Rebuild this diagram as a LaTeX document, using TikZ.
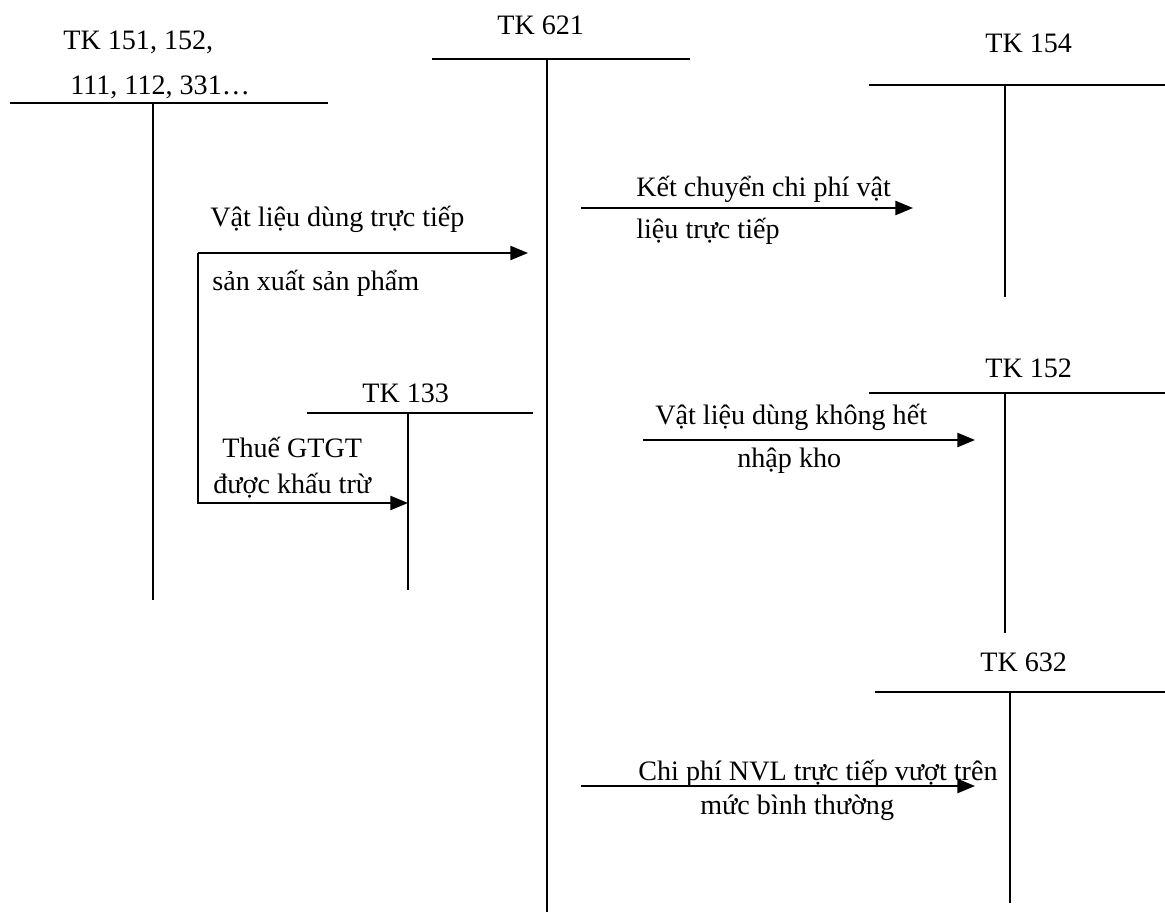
\documentclass[tikz,border=0pt]{standalone}
\usepackage{fontspec}
\setmainfont{Liberation Serif}
\usetikzlibrary{arrows.meta}
\begin{document}
\begin{tikzpicture}[x=0.02cm,y=-0.02cm,
  acc/.style={line width=1.1pt},
  lbl/.style={inner sep=0pt,anchor=base west,font=\fontsize{16}{19}\selectfont},
  arr/.style={line width=1.1pt,-{Triangle[length=10pt,width=8pt]}}]
  \useasboundingbox (0,0) rectangle (1165,912);
  % T-accounts
  \coordinate (t151) at (153,103);
  \coordinate (t621) at (547,59);
  \coordinate (t154) at (1005,85);
  \coordinate (t133) at (408,413);
  \coordinate (t152) at (1005,393);
  \coordinate (t632) at (1010,692);
  \draw[acc] (10,103) -- (328,103);
  \draw[acc] (t151) -- (153,600);
  \draw[acc] (432,59) -- (690,59);
  \draw[acc] (t621) -- (547,912);
  \draw[acc] (869,85) -- (1165,85);
  \draw[acc] (t154) -- (1005,297);
  \draw[acc] (307,413) -- (533,413);
  \draw[acc] (t133) -- (408,590);
  \draw[acc] (869,393) -- (1165,393);
  \draw[acc] (t152) -- (1005,633);
  \draw[acc] (875,692) -- (1165,692);
  \draw[acc] (t632) -- (1010,903);
  \node[lbl] (n151) at (63,50) {TK 151, 152,};
  \node[lbl] (n111) at (70,95) {111, 112, 331\ldots};
  \node[lbl] (n621) at (497,35) {TK 621};
  \node[lbl] (n154) at (985,53) {TK 154};
  \node[lbl] (n133) at (362,402) {TK 133};
  \node[lbl] (n152) at (985,377) {TK 152};
  \node[lbl] (n632) at (980,671) {TK 632};
  % Arrows
  \coordinate (vl) at (198,253);
  \coordinate (vl621) at (528,253);
  \coordinate (vat) at (408,503);
  \coordinate (kc) at (581,208);
  \coordinate (kc154) at (913,208);
  \coordinate (nk) at (643,440);
  \coordinate (nk152) at (975,440);
  \coordinate (cp) at (581,786);
  \coordinate (cp632) at (975,786);
  \draw[arr] (vl) -- (vl621);
  \draw[arr] (vl) -- (vl |- vat) -- (vat);
  \draw[arr] (kc) -- (kc154);
  \draw[arr] (nk) -- (nk152);
  \draw[arr] (cp) -- (cp632);
  \node[lbl] (l1a) at (210,226) {Vật liệu dùng trực tiếp};
  \node[lbl] (l1b) at (212,290) {sản xuất sản phẩm};
  \node[lbl] (l2a) at (222,457) {Thuế GTGT};
  \node[lbl] (l2b) at (213,493) {được khấu trừ};
  \node[lbl] (l3a) at (636,196) {Kết chuyển chi phí vật};
  \node[lbl] (l3b) at (636,238) {liệu trực tiếp};
  \node[lbl] (l4a) at (655,424) {Vật liệu dùng không hết};
  \node[lbl] (l4b) at (737,467) {nhập kho};
  \node[lbl] (l5a) at (638,780) {Chi phí NVL trực tiếp vượt trên};
  \node[lbl] (l5b) at (700,814) {mức bình thường};
\end{tikzpicture}
\end{document}
